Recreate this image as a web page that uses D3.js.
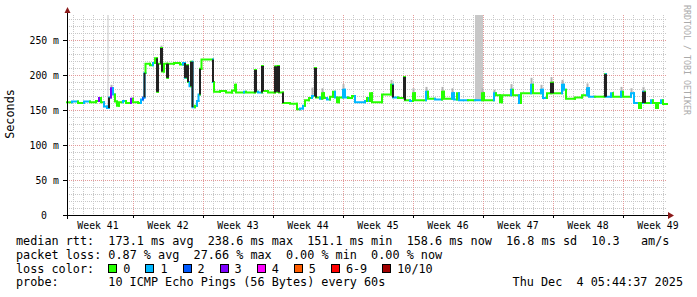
<!DOCTYPE html>
<html>
<head>
<meta charset="utf-8">
<script src="https://cdn.jsdelivr.net/npm/d3@7"></script>
<style>
  body { margin: 0; background: #fff; }
  svg text { font-family: "DejaVu Sans Mono", monospace; white-space: pre; }
</style>
</head>
<body>
<svg id="chart" width="697" height="297"></svg>
<script>
// plot window starts here, values below are days after it
const t0 = Date.UTC(2025, 9, 6, 9, 36);
const spanDays = 60;

// median rtt steps (ms), each holds until the next day value
const days = [0, 0.5, 1.1, 1.7, 2.3, 2.9, 3.2, 3.4, 3.7, 4.0, 4.2, 4.4, 4.6, 4.8, 5.0, 5.2, 5.6, 5.9, 6.4, 6.6,
  7.1, 7.4, 7.6, 7.75, 7.85, 8.3, 8.6, 8.8, 9.0, 9.1, 9.4, 9.5, 9.7, 10.0, 10.1, 10.7, 11.3, 11.6, 11.8, 11.95,
  12.1, 12.25, 12.4, 12.55, 12.8, 13.0, 13.15, 13.3, 13.45, 14.6, 14.7, 15.3, 15.9, 16.5, 16.8, 16.9, 17.7, 17.9,
  18.8, 18.9, 19.1, 19.5, 19.6, 20.1, 20.8, 20.9, 21.1, 21.2, 21.6, 22.3, 23.0, 23.3, 23.6, 23.8, 24.2, 24.5,
  24.8, 24.9, 25.3, 25.5, 25.7, 26.0, 26.3, 26.6, 26.8, 27.0, 27.2, 27.6, 27.8, 28.1, 28.5, 28.8, 29.8, 30.0,
  30.2, 30.3, 30.5, 31.5, 32.4, 32.6, 33.1, 33.7, 33.8, 34.3, 34.6, 34.8, 35.9, 36.1, 36.8, 37.5, 37.7, 38.5,
  38.7, 39.0, 39.2, 40.1, 40.8, 41.5, 41.7, 42.7, 42.9, 43.3, 43.5, 44.4, 44.6, 45.2, 45.4, 46.4, 46.6, 47.4,
  47.6, 48.0, 48.4, 48.6, 49.5, 49.7, 49.9, 50.8, 51.5, 52.0, 52.2, 52.8, 53.8, 53.9, 54.4, 54.6, 55.4, 55.6,
  56.4, 56.7, 57.2, 57.4, 57.6, 57.8, 58.4, 58.6, 58.9, 59.1, 59.4, 59.6];
const rtt = [161, 162, 160, 162, 161, 163, 167, 161, 155, 153, 168, 181, 172, 162, 156, 161, 163, 160, 166, 161,
  160, 165, 168, 203, 216, 214, 217, 224, 176, 216, 238.6, 205, 216, 196, 216, 217, 215, 217, 196, 214,
  190, 184, 219, 154, 156, 163, 172, 209, 222, 190, 176, 177, 175, 178, 186, 175, 176, 175,
  207, 176, 175, 213, 177, 175, 212, 176, 213, 175, 160, 159, 151.1, 152, 156, 164, 167, 170,
  210, 168, 166, 174, 167, 165, 169, 176, 168, 161, 168, 179, 168, 167, 170, 161, 163, 167,
  163, 174, 161, 172, 186, 168, 167, 197, 164, 163, 174, 164, 176, 166, 165, 176, 166, 174,
  165, 174, 164, 164, 164, 174, 164, 174, 171, 161, 171, 179, 171, 160, 174, 186, 174, 179,
  167, 174, 189, 174, 186, 179, 166, 168, 171, 181, 169, 169, 201, 169, 174, 169, 176, 169,
  174, 160, 153, 160, 176, 160, 164, 160, 153, 160, 164, 158.6];
// lost pings out of 10 for each step
const loss = [0, 1, 0, 1, 0, 0, 3, 0, 1, 1, 1, 3, 1, 0, 0, 0, 1, 0, 3, 0,
  0, 1, 2, 1, 0, 0, 1, 0, 0, 0, 0, 0, 0, 0, 0, 0, 0, 1, 1, 0,
  0, 1, 0, 1, 0, 1, 1, 0, 0, 1, 0, 0, 0, 0, 0, 0, 1, 0,
  0, 0, 1, 0, 0, 0, 0, 0, 0, 0, 0, 0, 0, 1, 1, 0, 0, 1,
  0, 0, 1, 0, 0, 1, 0, 0, 1, 0, 0, 1, 1, 0, 0, 1, 1, 0,
  1, 0, 0, 0, 0, 1, 0, 0, 0, 1, 0, 0, 1, 0, 1, 0, 0, 1,
  1, 0, 1, 0, 1, 0, 0, 1, 0, 0, 0, 1, 0, 1, 0, 1, 0, 1,
  1, 0, 0, 0, 1, 1, 0, 0, 0, 1, 1, 0, 0, 1, 1, 0, 1, 0,
  1, 1, 0, 0, 1, 0, 1, 0, 0, 0, 1, 0];

// light smoke above some bumps
const smokeDays = [4.4, 9.4, 24.5, 25.5, 27.6, 32.4, 34.6, 35.9, 37.5, 38.5, 41.5, 42.7,
  44.4, 46.4, 47.4, 48.4, 49.5, 52.0, 55.4, 56.4, 57.6];
const smokeTop = [186, 242, 182, 181, 187, 193, 181, 183, 183, 181, 181, 179,
  187, 196, 186, 197, 193, 188, 183, 181, 183];

// periods with unknown data
const gapStart = [4.05, 40.8];
const gapEnd = [4.15, 41.6];

const yTicks = [0, 50, 100, 150, 200, 250];
const lossLabels = ["0", "1", "2", "3", "4", "5", "6-9", "10/10"];
const lossColors = ["#26ff00", "#00b8ff", "#0059ff", "#7e00ff", "#ff00ff", "#ff5e00", "#ff0000", "#a10000"];

const legendRows = [
  "median rtt:  173.1 ms avg  238.6 ms max  151.1 ms min  158.6 ms now  16.8 ms sd  10.3   am/s",
  "packet loss: 0.87 % avg  27.66 % max  0.00 % min  0.00 % now"
];
const probeLabel = "probe:";
const probeText = "10 ICMP Echo Pings (56 Bytes) every 60s";
const stamp = "Thu Dec  4 05:44:37 2025";

const svg = d3.select("#chart");
svg.append("rect").attr("width", 697).attr("height", 297).attr("fill", "#fff");

const day = 864e5;
const x = d3.scaleUtc()
  .domain([new Date(t0), new Date(t0 + spanDays * day)])
  .range([67, 667]);
const y = d3.scaleLinear().domain([0, 200 / 0.7]).range([215, 15]);
const toDate = d => new Date(t0 + d * day);
const lossIdx = n => n <= 5 ? n : (n < 10 ? 6 : 7);

// grid
const grid = svg.append("g").attr("shape-rendering", "crispEdges");
const mondays = d3.utcMonday.range(x.domain()[0], x.domain()[1]);
const dayLines = d3.utcDay.range(x.domain()[0], x.domain()[1]).filter(d => d.getUTCDay() !== 1);
grid.selectAll(".vmin").data(dayLines).join("line")
  .attr("x1", d => Math.round(x(d)) + 0.5).attr("x2", d => Math.round(x(d)) + 0.5)
  .attr("y1", 15).attr("y2", 215)
  .attr("stroke", "#c8c8c8").attr("stroke-dasharray", "1,1");
grid.selectAll(".hmin").data(d3.range(10, 290, 10).filter(v => v % 50 !== 0)).join("line")
  .attr("x1", 67).attr("x2", 667)
  .attr("y1", d => Math.round(y(d)) + 0.5).attr("y2", d => Math.round(y(d)) + 0.5)
  .attr("stroke", "#c8c8c8").attr("stroke-dasharray", "1,1");
grid.selectAll(".vmaj").data(mondays).join("line")
  .attr("x1", d => Math.round(x(d)) + 0.5).attr("x2", d => Math.round(x(d)) + 0.5)
  .attr("y1", 15).attr("y2", 215)
  .attr("stroke", "#e39a9a").attr("stroke-dasharray", "1,1");
grid.selectAll(".hmaj").data(yTicks.filter(v => v > 0)).join("line")
  .attr("x1", 67).attr("x2", 667)
  .attr("y1", d => Math.round(y(d)) + 0.5).attr("y2", d => Math.round(y(d)) + 0.5)
  .attr("stroke", "#e39a9a").attr("stroke-dasharray", "1,1");

// median value at a given day
const valueAt = d => rtt[Math.max(0, d3.bisectRight(days, d) - 1)];

// unknown periods
svg.selectAll(".gap").data(gapStart).join("rect")
  .attr("x", (d, i) => x(toDate(d)))
  .attr("width", (d, i) => Math.max(1, x(toDate(gapEnd[i])) - x(toDate(d))))
  .attr("y", 15)
  .attr("height", (d, i) => y(valueAt(d)) - 15)
  .attr("fill", "#c8c8c8");

// smoke
svg.selectAll(".smoke").data(smokeDays).join("line")
  .attr("x1", d => x(toDate(d)) + 0.5).attr("x2", d => x(toDate(d)) + 0.5)
  .attr("y1", d => y(valueAt(d)))
  .attr("y2", (d, i) => y(smokeTop[i]))
  .attr("stroke", "#b4b4b4").attr("stroke-width", 2);

// median line, every step drawn in its loss colour with the rise into it
const steps = days.map((d, i) => ({
  t: toDate(d),
  end: toDate(i + 1 < days.length ? days[i + 1] : spanDays),
  prev: i > 0 ? rtt[i - 1] : rtt[i],
  v: rtt[i],
  c: lossIdx(loss[i])
}));
svg.append("g").selectAll("path").data(steps).join("path")
  .attr("d", s => `M${x(s.t)},${y(s.prev)}V${y(s.v)}H${x(s.end)}`)
  .attr("fill", "none")
  .attr("stroke", s => lossColors[s.c])
  .attr("stroke-width", 2)
  .attr("stroke-linecap", "square");

// dark smoke on the big jumps
svg.append("g").selectAll("line")
  .data(steps.filter(s => Math.abs(s.prev - s.v) > 14))
  .join("line")
  .attr("x1", s => x(s.t)).attr("x2", s => x(s.t))
  .attr("y1", s => y(s.prev)).attr("y2", s => y(s.v))
  .attr("stroke", "#222").attr("stroke-width", 2);

// axes
const axis = svg.append("g").attr("shape-rendering", "crispEdges");
axis.append("line").attr("x1", 63).attr("x2", 669).attr("y1", 215.5).attr("y2", 215.5).attr("stroke", "#000");
axis.append("line").attr("x1", 67.5).attr("x2", 67.5).attr("y1", 219).attr("y2", 12).attr("stroke", "#000");
axis.selectAll(".xt").data(mondays).join("line")
  .attr("x1", d => Math.round(x(d)) + 0.5).attr("x2", d => Math.round(x(d)) + 0.5)
  .attr("y1", 215).attr("y2", 218).attr("stroke", "#000");
axis.selectAll(".yt").data(yTicks).join("line")
  .attr("x1", 63).attr("x2", 67)
  .attr("y1", d => Math.round(y(d)) + 0.5).attr("y2", d => Math.round(y(d)) + 0.5)
  .attr("stroke", "#000");
svg.append("path").attr("d", "M668,212L674,215.5L668,219Z").attr("fill", "#8b1a1a");
svg.append("path").attr("d", "M64.5,13L67.5,7L70.5,13Z").attr("fill", "#8b1a1a");

// tick labels
svg.selectAll(".yl").data(yTicks).join("text")
  .attr("x", d => d === 0 ? 47 : 59)
  .attr("y", d => y(d) + 4)
  .attr("text-anchor", "end")
  .attr("font-size", "9.8px")
  .attr("fill", "#000")
  .text(d => d === 0 ? "0" : d + " m");
svg.selectAll(".xl").data(d3.utcMonday.range(d3.utcMonday.floor(x.domain()[0]), x.domain()[1])).join("text")
  .attr("x", d => x(new Date(+d + 3.5 * day)))
  .attr("y", 229)
  .attr("text-anchor", "middle")
  .attr("font-size", "9.8px")
  .attr("fill", "#000")
  .text(d => "Week " + d3.utcFormat("%V")(d));

svg.append("text")
  .attr("transform", "translate(14,114) rotate(-90)")
  .attr("text-anchor", "middle")
  .attr("font-size", "11.8px")
  .text("Seconds");

svg.append("text")
  .attr("transform", "translate(684,5) rotate(90)")
  .attr("font-size", "8.3px")
  .attr("fill", "#aaa")
  .text("RRDTOOL / TOBI OETIKER");

// legend
const cw = 7.1;
svg.selectAll(".lg").data(legendRows).join("text")
  .attr("x", 16).attr("y", (d, i) => 245 + i * 13.7)
  .attr("font-size", "11.8px")
  .text(d => d);

svg.append("text").attr("x", 16).attr("y", 272.5).attr("font-size", "11.8px").text("loss color:");
let lx = 16 + 13 * cw;
const swatches = lossLabels.map((lab, i) => {
  const o = { lab, col: lossColors[i], x: lx };
  lx += 15 + lab.length * cw + 15;
  return o;
});
const sw = svg.append("g").selectAll("g").data(swatches).join("g");
sw.append("rect")
  .attr("x", s => Math.round(s.x) + 0.5).attr("y", 264.5)
  .attr("width", 8).attr("height", 8)
  .attr("fill", s => s.col).attr("stroke", "#000");
sw.append("text")
  .attr("x", s => s.x + 15).attr("y", 272.5)
  .attr("font-size", "11.8px")
  .text(s => s.lab);

svg.append("text").attr("x", 16).attr("y", 286).attr("font-size", "11.8px").text(probeLabel);
svg.append("text").attr("x", 16 + 13 * cw).attr("y", 286).attr("font-size", "11.8px").text(probeText);
svg.append("text").attr("x", 683).attr("y", 286).attr("text-anchor", "end").attr("font-size", "11.8px").text(stamp);
</script>
</body>
</html>
